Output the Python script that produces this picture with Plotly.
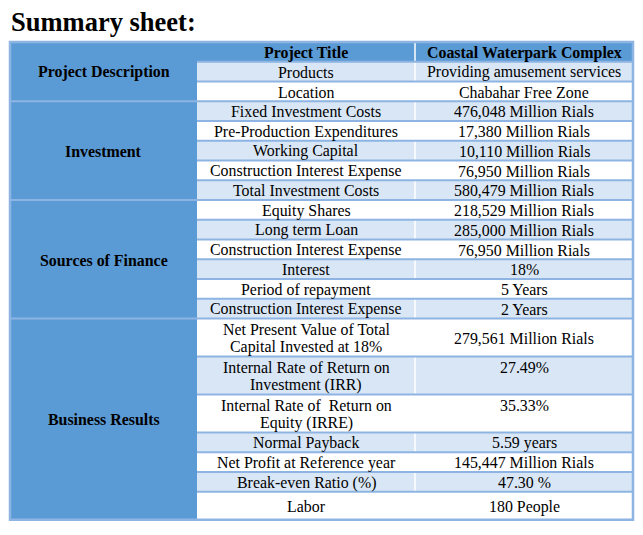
import plotly.graph_objects as go

# ---------------- data ----------------
title = "Summary sheet:"
header_item = "Project Title"
header_value = "Coastal Waterpark Complex"

groups = ["Project Description", "Investment", "Sources of Finance", "Business Results"]
group_sizes = [2, 5, 6, 7]  # data rows per group (header row belongs to first group)

items = [
    "Products", "Location",
    "Fixed Investment Costs", "Pre-Production Expenditures", "Working Capital",
    "Construction Interest Expense", "Total Investment Costs",
    "Equity Shares", "Long term Loan", "Construction Interest Expense", "Interest",
    "Period of repayment", "Construction Interest Expense",
    "Net Present Value of Total<br>Capital Invested at 18%",
    "Internal Rate of Return on<br>Investment (IRR)",
    "Internal Rate of  Return on<br>Equity (IRRE)",
    "Normal Payback", "Net Profit at Reference year", "Break-even Ratio (%)", "Labor",
]
values = [
    "Providing amusement services", "Chabahar Free Zone",
    "476,048 Million Rials", "17,380 Million Rials", "10,110 Million Rials",
    "76,950 Million Rials", "580,479 Million Rials",
    "218,529 Million Rials", "285,000 Million Rials", "76,950 Million Rials", "18%",
    "5 Years", "2 Years",
    "279,561 Million Rials", "27.49%", "35.33%",
    "5.59 years", "145,447 Million Rials", "47.30 %", "180 People",
]

# ---------------- layout geometry / style ----------------
W, H = 643, 535
OFF = 8  # default page body margin
X0, X1, X2, X3 = 10, 197, 415, 633
Y0 = 42
ROW1 = 19.75
ROW2 = 38.0
LABOR_H = 28.0
LINE_GAP = 18.0
TEXT_DY = 0.8
BLUE = "#5B9BD5"
LIGHT = "#D9E6F5"
LINE = "#8DB4E2"
FONT = "Liberation Serif"
FS = 15.9

def row_height(i):
    if items[i] == "Labor":
        return LABOR_H
    return ROW2 if "<br>" in items[i] else ROW1

shapes = []
annotations = []

def add_text(x, yc, text, bold=False):
    lines = text.split("<br>")
    n = len(lines)
    for k, ln in enumerate(lines):
        yy = yc + TEXT_DY + (k - (n - 1) / 2) * LINE_GAP
        annotations.append(dict(x=x, y=yy, text=("<b>" + ln + "</b>") if bold else ln))

# header row
y = Y0
hy0, hy1 = y, y + ROW1
shapes.append(dict(type="rect", xref="x", yref="y", x0=X1, x1=X3, y0=hy0, y1=hy1,
                   fillcolor=BLUE, line=dict(width=0), layer="below"))
add_text((X1 + X2) / 2, (hy0 + hy1) / 2, header_item, bold=True)
add_text((X2 + X3) / 2, (hy0 + hy1) / 2, header_value, bold=True)
y = hy1

row_bounds = []
for i in range(len(items)):
    h = row_height(i)
    row_bounds.append((y, y + h))
    y += h
Yend = y

# category column
shapes.append(dict(type="rect", xref="x", yref="y", x0=X0, x1=X1, y0=Y0, y1=Yend,
                   fillcolor=BLUE, line=dict(width=0), layer="below"))

# data rows
for i, (a, b) in enumerate(row_bounds):
    fill = LIGHT if i % 2 == 0 else "white"
    shapes.append(dict(type="rect", xref="x", yref="y", x0=X1, x1=X3, y0=a, y1=b,
                       fillcolor=fill, line=dict(width=0), layer="below"))
    add_text((X1 + X2) / 2, (a + b) / 2, items[i])
    if "<br>" in items[i] and values[i].endswith("%"):
        vy = (a + b) / 2 - LINE_GAP / 2
    else:
        vy = (a + b) / 2
    add_text((X2 + X3) / 2, vy, values[i])

# vertical separator between columns 2 and 3
shapes.append(dict(type="line", xref="x", yref="y", x0=X2, x1=X2, y0=Y0, y1=Yend,
                   line=dict(color="white", width=1.5)))

# horizontal row lines in columns 2-3
for (a, b) in row_bounds:
    shapes.append(dict(type="line", xref="x", yref="y", x0=X1, x1=X3, y0=a, y1=a,
                       line=dict(color=LINE, width=2)))

# group separators and labels
idx = 0
gy = Y0
for g, n in zip(groups, group_sizes):
    start = gy
    end = row_bounds[idx + n - 1][1]
    idx += n
    add_text((X0 + X1) / 2, (start + end) / 2, g, bold=True)
    if start != Y0:
        shapes.append(dict(type="line", xref="x", yref="y", x0=X0, x1=X1, y0=start, y1=start,
                           line=dict(color=LINE, width=2)))
    gy = end

# outer border
shapes.append(dict(type="rect", xref="x", yref="y", x0=X0, x1=X3, y0=Y0, y1=Yend,
                   fillcolor="rgba(0,0,0,0)", line=dict(color=LINE, width=2.5)))

ann = []
for a in annotations:
    a.update(xref="x", yref="y", showarrow=False, xanchor="center", yanchor="middle",
             align="center", font=dict(family=FONT, size=FS, color="#000000"))
    ann.append(a)

ann.append(dict(xref="x", yref="y", x=9, y=22, text="<b>" + title + "</b>", showarrow=False,
                xanchor="left", yanchor="middle", font=dict(family=FONT, size=26.5, color="#000000")))

fig = go.Figure()
fig.add_trace(go.Scatter(x=[OFF, W], y=[OFF, H], mode="markers", marker=dict(opacity=0),
                         hoverinfo="skip", showlegend=False))
fig.update_layout(
    width=W - OFF, height=H - OFF, margin=dict(l=0, r=0, t=0, b=0),
    paper_bgcolor="white", plot_bgcolor="white",
    xaxis=dict(range=[OFF, W], visible=False, fixedrange=True),
    yaxis=dict(range=[H, OFF], visible=False, fixedrange=True),
    shapes=shapes, annotations=ann, showlegend=False,
)
fig.write_html("out.html")
